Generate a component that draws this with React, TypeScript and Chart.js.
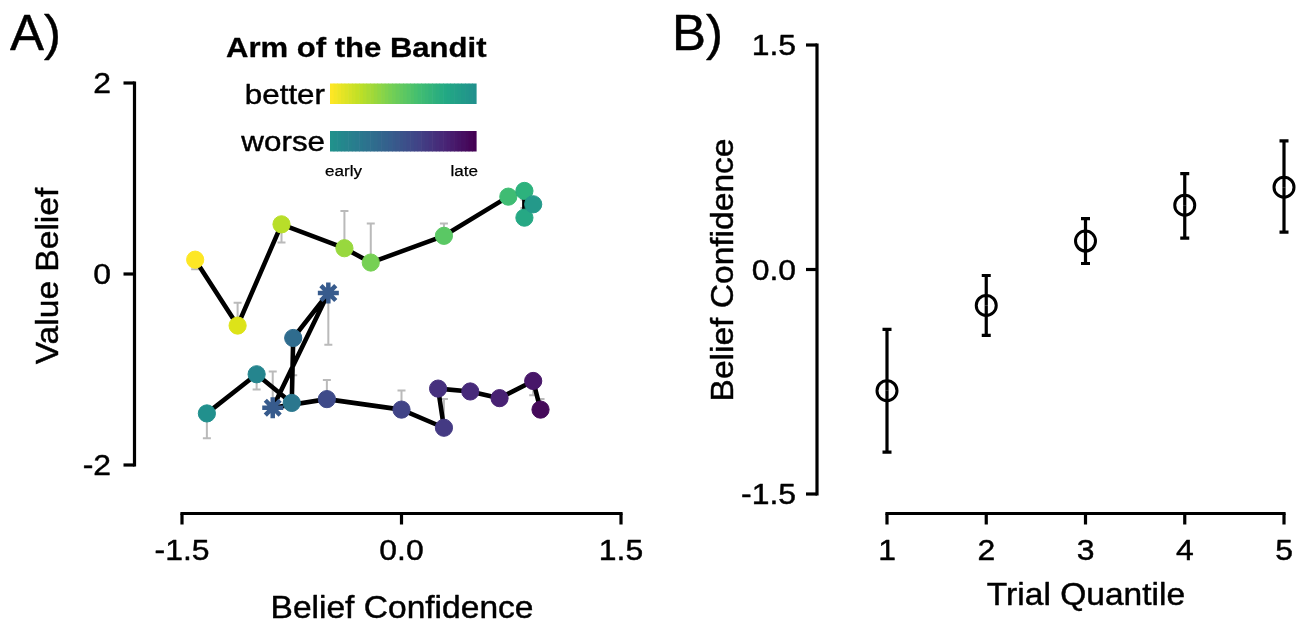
import React, { useEffect, useRef } from "react";
import { Chart, registerables } from "chart.js";

Chart.register(...registerables);

const FONT = '"Liberation Sans", Arial, Helvetica, sans-serif';
const SX = 1.1;

// ---------- Panel A data ----------
const betterX = [-1.41, -1.12, -0.82, -0.39, -0.21, 0.29, 0.73, 0.84, 0.84, 0.9];
const betterY = [0.15, -0.54, 0.52, 0.27, 0.12, 0.4, 0.81, 0.87, 0.59, 0.73];
const betterErr = [0.05, -0.3, 0.33, 0.66, 0.53, 0.53, 0.81, 0.69, 0.78, 0.73];
const betterColors = ["#fde725", "#dde318", "#b8de29", "#98d83e", "#76d054", "#5ac864", "#3fbc73", "#2db27d", "#26a884", "#24998a"];

const worseX = [-1.33, -0.99, -0.75, -0.74, -0.5, -0.88, -0.51, 0.0, 0.29, 0.25, 0.47, 0.67, 0.9, 0.95];
const worseY = [-1.46, -1.05, -1.35, -0.67, -0.2, -1.4, -1.31, -1.42, -1.61, -1.2, -1.23, -1.3, -1.12, -1.42];
const worseErr = [-1.72, -1.21, -1.35, -1.06, -0.74, -1.02, -1.11, -1.22, -1.31, -1.2, -1.23, -1.3, -1.27, -1.31];
const worseColors = ["#21908d", "#25858e", "#2b778e", "#2f6c8e", "#375b8d", "#375b8d", "#3e4a89", "#414487", "#443a83", "#46307e", "#472a7a", "#482173", "#481769", "#450a5a"];
const worseStyles = ["circle", "circle", "circle", "circle", "star", "star", "circle", "circle", "circle", "circle", "circle", "circle", "circle", "circle"];

const xTicksA = [-1.5, 0, 1.5];
const xTickLabelsA = ["-1.5", "0.0", "1.5"];
const yTicksA = [2, 0, -2];
const yTickLabelsA = ["2", "0", "-2"];

// ---------- Panel B data ----------
const quantiles = [1, 2, 3, 4, 5];
const confMean = [-0.81, -0.24, 0.19, 0.43, 0.55];
const confLow = [-1.22, -0.44, 0.04, 0.21, 0.25];
const confHigh = [-0.4, -0.04, 0.34, 0.64, 0.86];

const xTicksB = [1, 2, 3, 4, 5];
const xTickLabelsB = ["1", "2", "3", "4", "5"];
const yTicksB = [1.5, 0, -1.5];
const yTickLabelsB = ["1.5", "0.0", "-1.5"];

// viridis colormap stops (legend colour bars)
const VIRIDIS = ["#440154", "#482475", "#414487", "#355f8d", "#2a788e", "#21918c", "#22a884", "#44bf70", "#7ad151", "#bddf26", "#fde725"];

function hexToRgb(h: string) {
  return [parseInt(h.slice(1, 3), 16), parseInt(h.slice(3, 5), 16), parseInt(h.slice(5, 7), 16)];
}
function viridis(t: number) {
  const p = Math.max(0, Math.min(1, t)) * (VIRIDIS.length - 1);
  const i = Math.min(VIRIDIS.length - 2, Math.floor(p));
  const f = p - i;
  const a = hexToRgb(VIRIDIS[i]);
  const b = hexToRgb(VIRIDIS[i + 1]);
  const c = a.map((v, k) => Math.round(v + (b[k] - v) * f));
  return `rgb(${c[0]},${c[1]},${c[2]})`;
}

function text(
  ctx: CanvasRenderingContext2D,
  s: string,
  x: number,
  cy: number,
  size: number,
  align: CanvasTextAlign,
  opts: { bold?: boolean; rot?: number; sx?: number; baseline?: boolean; stroke?: number } = {}
) {
  ctx.save();
  ctx.translate(x, cy);
  if (opts.rot) ctx.rotate(opts.rot);
  ctx.scale(opts.sx ?? SX, 1);
  ctx.font = `${opts.bold ? "bold " : ""}${size}px ${FONT}`;
  ctx.textAlign = align;
  ctx.textBaseline = "alphabetic";
  ctx.fillStyle = "#000";
  const yy = opts.baseline ? 0 : 0.358 * size;
  ctx.fillText(s, 0, yy);
  const sw = opts.stroke ?? 0.45;
  if (sw > 0) {
    ctx.strokeStyle = "#000";
    ctx.lineWidth = sw;
    ctx.lineJoin = "round";
    ctx.strokeText(s, 0, yy);
  }
  ctx.restore();
}

type AxisCfg = {
  xTicks: number[];
  xLabels: string[];
  yTicks: number[];
  yLabels: string[];
  xAxisY: number;
  yAxisX: number;
  yLabelRight: number;
  xLabelY: number;
  xTitle: string;
  xTitleX: number;
  xTitleY: number;
  yTitle: string;
  yTitleX: number;
  yTitleY: number;
};

function drawAxes(chart: any, c: AxisCfg) {
  const ctx: CanvasRenderingContext2D = chart.ctx;
  const xs = chart.scales.x;
  const ys = chart.scales.y;
  ctx.save();
  ctx.strokeStyle = "#000";
  ctx.lineWidth = 3.2;
  ctx.lineCap = "butt";
  // x axis
  const x0 = xs.getPixelForValue(c.xTicks[0]);
  const x1 = xs.getPixelForValue(c.xTicks[c.xTicks.length - 1]);
  ctx.beginPath();
  ctx.moveTo(x0 - 1.6, c.xAxisY);
  ctx.lineTo(x1 + 1.6, c.xAxisY);
  ctx.stroke();
  c.xTicks.forEach((v, i) => {
    const px = xs.getPixelForValue(v);
    ctx.beginPath();
    ctx.moveTo(px, c.xAxisY);
    ctx.lineTo(px, c.xAxisY + 11);
    ctx.stroke();
    text(ctx, c.xLabels[i], px, c.xLabelY, 29, "center");
  });
  // y axis
  const y0 = ys.getPixelForValue(c.yTicks[0]);
  const y1 = ys.getPixelForValue(c.yTicks[c.yTicks.length - 1]);
  ctx.beginPath();
  ctx.moveTo(c.yAxisX, Math.min(y0, y1) - 1.6);
  ctx.lineTo(c.yAxisX, Math.max(y0, y1) + 1.6);
  ctx.stroke();
  c.yTicks.forEach((v, i) => {
    const py = ys.getPixelForValue(v);
    ctx.beginPath();
    ctx.moveTo(c.yAxisX, py);
    ctx.lineTo(c.yAxisX - 11, py);
    ctx.stroke();
    text(ctx, c.yLabels[i], c.yLabelRight, py, 29, "right");
  });
  ctx.restore();
  text(ctx, c.xTitle, c.xTitleX, c.xTitleY, 30.5, "center");
  text(ctx, c.yTitle, c.yTitleX, c.yTitleY, 30.5, "center", { rot: -Math.PI / 2 });
}

function drawErrBars(
  chart: any,
  xv: number[],
  from: number[],
  to: number[],
  color: string,
  width: number,
  cap: number
) {
  const ctx: CanvasRenderingContext2D = chart.ctx;
  const xs = chart.scales.x;
  const ys = chart.scales.y;
  ctx.save();
  ctx.strokeStyle = color;
  ctx.lineWidth = width;
  ctx.lineCap = "butt";
  xv.forEach((x, i) => {
    if (from[i] === to[i]) return;
    const px = xs.getPixelForValue(x);
    const pa = ys.getPixelForValue(from[i]);
    const pb = ys.getPixelForValue(to[i]);
    ctx.beginPath();
    ctx.moveTo(px, pa);
    ctx.lineTo(px, pb);
    ctx.moveTo(px - cap, pb);
    ctx.lineTo(px + cap, pb);
    ctx.stroke();
  });
  ctx.restore();
}

const pluginA = {
  id: "panelA",
  beforeDatasetsDraw(chart: any) {
    drawErrBars(chart, betterX, betterY, betterErr, "#bababa", 2, 4);
    drawErrBars(chart, worseX, worseY, worseErr, "#bababa", 2, 4);
  },
  afterDraw(chart: any) {
    const ctx: CanvasRenderingContext2D = chart.ctx;
    drawAxes(chart, {
      xTicks: xTicksA,
      xLabels: xTickLabelsA,
      yTicks: yTicksA,
      yLabels: yTickLabelsA,
      xAxisY: 513.5,
      yAxisX: 134.5,
      yLabelRight: 111,
      xLabelY: 550,
      xTitle: "Belief Confidence",
      xTitleX: 402,
      xTitleY: 607,
      yTitle: "Value Belief",
      yTitleX: 47,
      yTitleY: 276,
    });
    text(ctx, "A)", 10, 50, 50, "left", { baseline: true, sx: 1.02 });
    // legend
    text(ctx, "Arm of the Bandit", 226, 47, 27, "left", { bold: true, sx: 1.15, stroke: 0.3 });
    text(ctx, "better", 325, 94, 28.5, "right", { sx: 1.1 });
    text(ctx, "worse", 325, 141, 28.5, "right", { sx: 1.1 });
    const bx0 = 330;
    const bx1 = 476;
    const n = 40;
    const w = (bx1 - bx0) / n;
    for (let i = 0; i < n; i++) {
      const t = i / (n - 1);
      ctx.fillStyle = viridis(1 - 0.5 * t);
      ctx.fillRect(bx0 + i * w, 83.5, w + 0.6, 20.5);
      ctx.fillStyle = viridis(0.5 - 0.5 * t);
      ctx.fillRect(bx0 + i * w, 131, w + 0.6, 20.5);
    }
    text(ctx, "early", 325, 175.5, 15.5, "left", { baseline: true, sx: 1.1, stroke: 0.25 });
    text(ctx, "late", 478, 175.5, 15.5, "right", { baseline: true, sx: 1.1, stroke: 0.25 });
  },
};

const pluginB = {
  id: "panelB",
  beforeDatasetsDraw(chart: any) {
    drawErrBars(chart, quantiles, confMean, confLow, "#000", 3.2, 4.5);
    drawErrBars(chart, quantiles, confMean, confHigh, "#000", 3.2, 4.5);
  },
  afterDraw(chart: any) {
    const ctx: CanvasRenderingContext2D = chart.ctx;
    drawAxes(chart, {
      xTicks: xTicksB,
      xLabels: xTickLabelsB,
      yTicks: yTicksB,
      yLabels: yTickLabelsB,
      xAxisY: 513.5,
      yAxisX: 167,
      yLabelRight: 146,
      xLabelY: 550,
      xTitle: "Trial Quantile",
      xTitleX: 436,
      xTitleY: 594,
      yTitle: "Belief Confidence",
      yTitleX: 72,
      yTitleY: 270,
    });
    text(ctx, "B)", 22, 50, 50, "left", { baseline: true, sx: 1.02 });
  },
};

export default function App() {
  const refA = useRef<HTMLCanvasElement>(null);
  const refB = useRef<HTMLCanvasElement>(null);

  useEffect(() => {
    const chartA = new Chart(refA.current as HTMLCanvasElement, {
      type: "scatter",
      data: {
        datasets: [
          {
            label: "better",
            data: betterX.map((x, i) => ({ x, y: betterY[i] })),
            showLine: true,
            borderColor: "#000",
            borderWidth: 4.6,
            borderJoinStyle: "round",
            borderCapStyle: "round",
            pointBackgroundColor: betterColors,
            pointBorderColor: betterColors,
            pointBorderWidth: 1,
            pointRadius: 8.6,
            pointStyle: "circle",
            clip: false,
          } as any,
          {
            label: "worse",
            data: worseX.map((x, i) => ({ x, y: worseY[i] })),
            showLine: true,
            borderColor: "#000",
            borderWidth: 4.6,
            borderJoinStyle: "round",
            borderCapStyle: "round",
            pointBackgroundColor: worseColors,
            pointBorderColor: worseColors,
            pointBorderWidth: worseStyles.map((s) => (s === "star" ? 4.5 : 1)),
            pointRadius: worseStyles.map((s) => (s === "star" ? 10.5 : 8.6)),
            pointStyle: worseStyles,
            clip: false,
          } as any,
        ],
      },
      options: {
        animation: false,
        responsive: false,
        events: [],
        layout: { padding: { left: 182, right: 29, top: 83, bottom: 159 } },
        scales: {
          x: { type: "linear", min: -1.5, max: 1.5, display: false },
          y: { type: "linear", min: -2, max: 2, display: false },
        },
        plugins: { legend: { display: false }, tooltip: { enabled: false } },
      },
      plugins: [pluginA],
    });

    const chartB = new Chart(refB.current as HTMLCanvasElement, {
      type: "scatter",
      data: {
        datasets: [
          {
            label: "confidence",
            data: quantiles.map((q, i) => ({ x: q, y: confMean[i] })),
            showLine: false,
            pointBackgroundColor: "rgba(0,0,0,0)",
            pointBorderColor: "#000",
            pointBorderWidth: 3,
            pointRadius: 10,
            clip: false,
          } as any,
        ],
      },
      options: {
        animation: false,
        responsive: false,
        events: [],
        layout: { padding: { left: 237, right: 18, top: 45, bottom: 130 } },
        scales: {
          x: { type: "linear", min: 1, max: 5, display: false },
          y: { type: "linear", min: -1.5, max: 1.5, display: false },
        },
        plugins: { legend: { display: false }, tooltip: { enabled: false } },
      },
      plugins: [pluginB],
    });

    return () => {
      chartA.destroy();
      chartB.destroy();
    };
  }, []);

  return (
    <div style={{ position: "absolute", left: 0, top: 0, width: 1302, height: 624, background: "#fff" }}>
      <canvas ref={refA} width={650} height={624} style={{ position: "absolute", left: 0, top: 0, width: 650, height: 624 }} />
      <canvas ref={refB} width={652} height={624} style={{ position: "absolute", left: 650, top: 0, width: 652, height: 624 }} />
    </div>
  );
}
